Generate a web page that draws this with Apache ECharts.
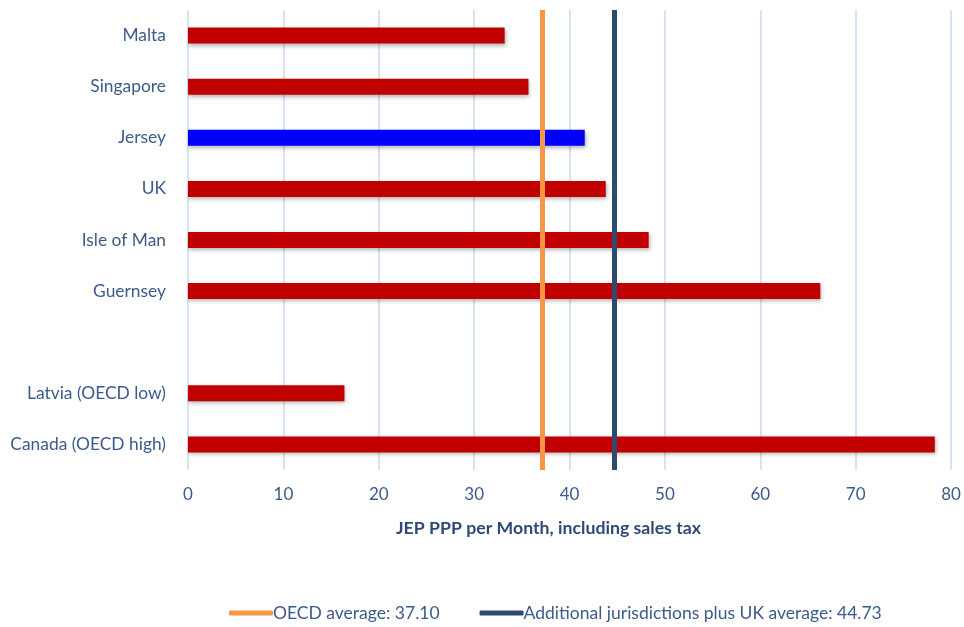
<!DOCTYPE html>
<html><head><meta charset="utf-8">
<script src="https://cdn.jsdelivr.net/npm/echarts@6/dist/echarts.min.js"></script>
<style>html,body{margin:0;padding:0;background:#fff}#c{width:964px;height:627px}</style>
</head><body><div id="c"></div>
<script>
const categories = ['Malta','Singapore','Jersey','UK','Isle of Man','Guernsey','','Latvia (OECD low)','Canada (OECD high)'];
const values = [33.2, 35.7, 41.6, 43.8, 48.3, 66.3, null, 16.4, 78.3];
const highlighted = ['Jersey'];
const oecdAverage = 37.10;
const additionalAverage = 44.73;
const legendNames = ['OECD average: 37.10', 'Additional jurisdictions plus UK average: 44.73'];
const xTicks = [0, 10, 20, 30, 40, 50, 60, 70, 80];

const FONT = 'Lato, "Open Sans", sans-serif';
const chart = echarts.init(document.getElementById('c'));
chart.setOption({
  animation: false,
  grid: { left: 188, right: 13, top: 10, bottom: 157, containLabel: false },
  legend: {
    bottom: 0, left: 224,
    data: legendNames,
    icon: 'roundRect', itemWidth: 44, itemHeight: 5, itemGap: 40,
    textStyle: { color: '#3c5a8a', fontSize: 17.5, fontFamily: FONT, padding: [0,0,0,-5] }
  },
  xAxis: {
    type: 'value', min: xTicks[0], max: xTicks[xTicks.length-1], interval: 10,
    axisLine: { show: false }, axisTick: { show: false },
    splitLine: { lineStyle: { color: '#d7e3f2', width: 2 } },
    axisLabel: { color: '#3c5a8a', fontSize: 17, fontFamily: FONT, margin: 16 },
    name: 'JEP PPP per Month, including sales tax',
    nameLocation: 'middle', nameGap: 49,
    nameTextStyle: { color: '#2e4a78', fontSize: 17.7, fontWeight: 'bold', fontFamily: FONT, padding: [0, 42, 0, 0] }
  },
  yAxis: {
    type: 'category', data: categories, inverse: true,
    axisLine: { show: false }, axisTick: { show: false },
    axisLabel: { color: '#3c5a8a', fontSize: 17.4, fontFamily: FONT, margin: 22 }
  },
  series: [
    {
      type: 'bar', data: values, barWidth: 16,
      itemStyle: {
        color: p => highlighted.includes(categories[p.dataIndex]) ? '#0000ff' : '#c00000',
        shadowBlur: 4, shadowColor: 'rgba(0,0,0,0.3)', shadowOffsetY: 2, shadowOffsetX: 1
      },
      z: 2
    },
    {
      name: legendNames[0], type: 'line', data: [], symbol: 'none',
      itemStyle: { color: '#f79646' }, lineStyle: { color: '#f79646', width: 5 },
      markLine: {
        silent: true, symbol: 'none', label: { show: false },
        lineStyle: { color: '#f79646', width: 5, type: 'solid' },
        data: [{ xAxis: oecdAverage }]
      },
      z: 3
    },
    {
      name: legendNames[1], type: 'line', data: [], symbol: 'none',
      itemStyle: { color: '#2e4a6e' }, lineStyle: { color: '#2e4a6e', width: 5 },
      markLine: {
        silent: true, symbol: 'none', label: { show: false },
        lineStyle: { color: '#2e4a6e', width: 5, type: 'solid' },
        data: [{ xAxis: additionalAverage }]
      },
      z: 3
    }
  ]
});
</script></body></html>
